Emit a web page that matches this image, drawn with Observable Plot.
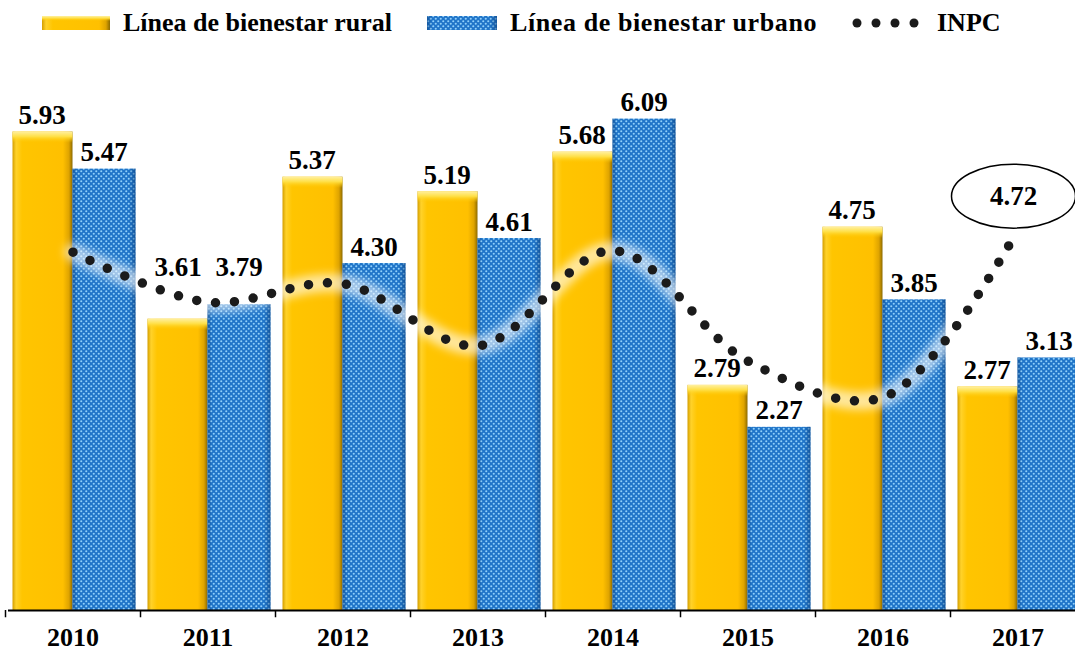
<!DOCTYPE html>
<html>
<head>
<meta charset="utf-8">
<script src="https://cdn.jsdelivr.net/npm/d3@7"></script>
<script src="https://cdn.jsdelivr.net/npm/@observablehq/plot@0.6"></script>
<style>
  body { margin: 0; background: #fff; width: 1075px; height: 658px; overflow: hidden; }
  #legend { position: relative; height: 50px; font-family: "Liberation Serif", "Times New Roman", serif; font-weight: bold; font-size: 26px; color: #000; }
  #legend .it { position: absolute; top: 0; height: 46px; display: flex; align-items: center; white-space: nowrap; }
  #chart svg { display: block; overflow: visible; }
</style>
</head>
<body>
<svg width="0" height="0" style="position:absolute">
  <defs>
    <linearGradient id="goldH" x1="0" x2="1" y1="0" y2="0">
      <stop offset="0" stop-color="#D49E00"/>
      <stop offset="0.06" stop-color="#FFD22A"/>
      <stop offset="0.16" stop-color="#FFC500"/>
      <stop offset="0.84" stop-color="#FFC000"/>
      <stop offset="0.94" stop-color="#DFA400"/>
      <stop offset="1" stop-color="#8C6A00"/>
    </linearGradient>
    <linearGradient id="goldTop" x1="0" x2="0" y1="0" y2="1">
      <stop offset="0" stop-color="#FFF0A0"/>
      <stop offset="0.45" stop-color="#FFDF45"/>
      <stop offset="1" stop-color="#FFC800" stop-opacity="0"/>
    </linearGradient>
    <pattern id="bluePat" width="5" height="5" patternUnits="userSpaceOnUse">
      <rect width="5" height="5" fill="#1F74C8"/>
      <circle cx="1.25" cy="1.25" r="1.05" fill="#8FD0FA"/>
      <circle cx="3.75" cy="3.75" r="1.05" fill="#8FD0FA"/>
    </pattern>
    <linearGradient id="blueShade" x1="0" x2="1" y1="0" y2="0">
      <stop offset="0" stop-color="#0A3C78" stop-opacity="0.5"/>
      <stop offset="0.07" stop-color="#0A3C78" stop-opacity="0"/>
      <stop offset="0.9" stop-color="#0A3C78" stop-opacity="0"/>
      <stop offset="1" stop-color="#0A3C78" stop-opacity="0.55"/>
    </linearGradient>
    <filter id="glow" x="-10%" y="-20%" width="120%" height="140%">
      <feGaussianBlur stdDeviation="4"/>
    </filter>
  </defs>
</svg>
<div id="legend">
  <div class="it" style="left:42px"><svg width="68" height="16"><rect x="0" y="1" width="68" height="14" fill="url(#goldH)"/><rect x="0" y="1" width="68" height="5" fill="url(#goldTop)"/></svg></div>
  <div class="it" style="left:123px">Línea de bienestar rural</div>
  <div class="it" style="left:427px"><svg width="70" height="16"><rect x="0" y="1" width="70" height="14" fill="url(#bluePat)"/><rect x="0" y="1" width="70" height="14" fill="url(#blueShade)"/></svg></div>
  <div class="it" style="left:510px; letter-spacing:0.6px">Línea de bienestar urbano</div>
  <div class="it" style="left:852px"><svg width="68" height="12"><g fill="#1b1b1b"><circle cx="5" cy="6" r="4.5"/><circle cx="24" cy="6" r="4.5"/><circle cx="43" cy="6" r="4.5"/><circle cx="62" cy="6" r="4.5"/></g></svg></div>
  <div class="it" style="left:937px">INPC</div>
</div>
<div id="chart"></div>
<script>
const years = ["2010", "2011", "2012", "2013", "2014", "2015", "2016", "2017"];
const rural = [5.93, 3.61, 5.37, 5.19, 5.68, 2.79, 4.75, 2.77];
const urbano = [5.47, 3.79, 4.30, 4.61, 6.09, 2.27, 3.85, 3.13];
const inpc = [4.44, 3.82, 4.05, 3.28, 4.46, 3.09, 2.64, 4.72];

const data = years.map((year, i) => ({year, rural: rural[i], urbano: urbano[i], inpc: inpc[i]}));

const font = '"Liberation Serif", "Times New Roman", serif';
const W = 1075, H = 608;
const bandStart = 4.5, pitch = 135;
const half = pitch / 2;
const rIn = {insetLeft: 7.5, insetRight: half};
const uIn = {insetLeft: half, insetRight: 4.5};

// labels in 2011 sit above the INPC line crossing the bars
const lifted = d => d.year === "2011";
const lab = {lineAnchor: "bottom", dy: -8, fontSize: 27, fontWeight: "bold", fill: "#000"};

const chart = Plot.plot({
  width: W,
  height: H,
  marginLeft: 8,
  marginRight: 0,
  marginTop: 0,
  marginBottom: 48,
  style: {fontFamily: font, background: "transparent", overflow: "visible"},
  x: {type: "band", domain: years, range: [bandStart, bandStart + pitch * years.length], padding: 0, label: null},
  y: {domain: [0, 6.94], axis: null},
  marks: [
    Plot.barY(data, {x: "year", y: "rural", fill: "url(#goldH)", ...rIn}),
    Plot.barY(data, {x: "year", y1: d => d.rural - 0.14, y2: "rural", fill: "url(#goldTop)", ...rIn}),
    Plot.barY(data, {x: "year", y: "urbano", fill: "url(#bluePat)", ...uIn}),
    Plot.barY(data, {x: "year", y: "urbano", fill: "url(#blueShade)", ...uIn}),
    Plot.ruleY([0], {stroke: "#000", strokeWidth: 2}),
    Plot.ruleX(years, {x: d => d, dx: -half, y1: 0, y2: -0.09, stroke: "#000", strokeWidth: 1.5}),
    Plot.axisX({tickSize: 0, tickPadding: 17, fontSize: 26, fontWeight: "bold", fill: "#000", label: null}),
    Plot.line(data, {x: "year", y: "inpc", curve: "catmull-rom", stroke: "#fff", strokeOpacity: 0.6, strokeWidth: 18}),
    Plot.line(data, {x: "year", y: "inpc", curve: "catmull-rom", stroke: "#1b1b1b", strokeWidth: 9.5, strokeLinecap: "round", strokeDasharray: "0 19"}),
    Plot.text(data.filter(d => !lifted(d)), {x: "year", y: "rural", text: d => d.rural.toFixed(2), dx: -31, ...lab}),
    Plot.text(data.filter(d => !lifted(d)), {x: "year", y: "urbano", text: d => d.urbano.toFixed(2), dx: 31, ...lab}),
    Plot.text(data.filter(lifted), {x: "year", y: d => d.inpc + 0.23, text: d => d.rural.toFixed(2), dx: -30, ...lab}),
    Plot.text(data.filter(lifted), {x: "year", y: d => d.inpc + 0.23, text: d => d.urbano.toFixed(2), dx: 31, ...lab})
  ]
});

// soften the halo behind the dotted INPC line
const lines = chart.querySelectorAll('g[aria-label="line"]');
if (lines.length) lines[0].setAttribute("filter", "url(#glow)");

// ellipse callout for the last INPC value
const last = data[data.length - 1];
const xs = chart.scale("x"), ys = chart.scale("y");
const cx = xs.apply(last.year) + xs.bandwidth / 2 - 4;
const cy = ys.apply(last.inpc) - 33;
const ns = "http://www.w3.org/2000/svg";
const g = document.createElementNS(ns, "g");
const el = document.createElementNS(ns, "ellipse");
el.setAttribute("cx", cx); el.setAttribute("cy", cy);
el.setAttribute("rx", 62); el.setAttribute("ry", 32);
el.setAttribute("fill", "#fff"); el.setAttribute("stroke", "#000"); el.setAttribute("stroke-width", 1.5);
const t = document.createElementNS(ns, "text");
t.setAttribute("x", cx); t.setAttribute("y", cy);
t.setAttribute("text-anchor", "middle"); t.setAttribute("dominant-baseline", "central");
t.setAttribute("font-family", font); t.setAttribute("font-weight", "bold"); t.setAttribute("font-size", 27);
t.textContent = last.inpc.toFixed(2);
g.appendChild(el); g.appendChild(t);
chart.appendChild(g);

document.getElementById("chart").appendChild(chart);
</script>
</body>
</html>
